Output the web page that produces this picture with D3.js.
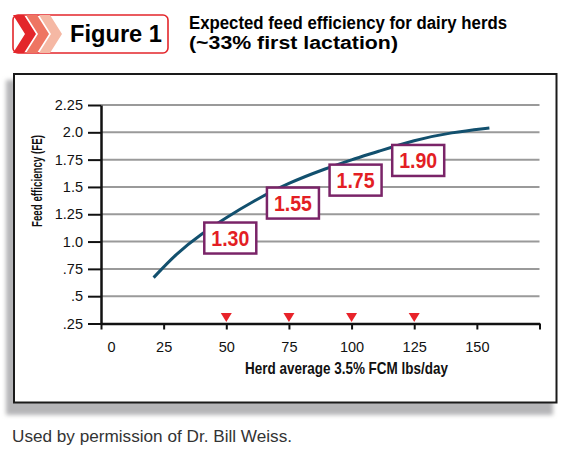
<!DOCTYPE html>
<html>
<head>
<meta charset="utf-8">
<script src="https://cdn.jsdelivr.net/npm/d3@7"></script>
<style>
  body { margin: 0; background: #fff; }
  text { font-family: "Liberation Sans", Arial, Helvetica, sans-serif; }
</style>
</head>
<body>
<div id="chart"></div>
<script>
// herd milk (lbs/day) vs feed efficiency
const milk = [21, 30, 40, 50, 60, 75, 90, 100, 110, 125, 140, 155];
const fe = [0.67, 0.89, 1.07, 1.22, 1.36, 1.54, 1.67, 1.75, 1.82, 1.93, 2.0, 2.04];

// boxed call-outs
const calloutX = [50, 75, 100, 125];
const calloutText = ['1.30', '1.55', '1.75', '1.90'];

const yTicks = [0.25, 0.5, 0.75, 1.0, 1.25, 1.5, 1.75, 2.0, 2.25];
const yTickLabels = ['.25', '.5', '.75', '1.0', '1.25', '1.5', '1.75', '2.0', '2.25'];
const xTicks = [0, 25, 50, 75, 100, 125, 150, 175];
const xTickLabels = ['0', '25', '50', '75', '100', '125', '150', ''];

const W = 575, H = 452;
const svg = d3.select('#chart').append('svg')
  .attr('width', W)
  .attr('height', H);

// Drop shadow + frame
const defs = svg.append('defs');
defs.append('filter').attr('id', 'blur')
  .append('feGaussianBlur').attr('stdDeviation', 2);

svg.append('rect')
  .attr('x', 6).attr('y', 80)
  .attr('width', 547).attr('height', 335)
  .attr('fill', '#b5b5b8')
  .attr('filter', 'url(#blur)');

svg.append('rect')
  .attr('x', 14).attr('y', 74)
  .attr('width', 542.5).attr('height', 328.5)
  .attr('fill', '#fff')
  .attr('stroke', '#1a1a1a')
  .attr('stroke-width', 2);

// Figure badge
const chevColors = ['#e3262b', '#ee7562', '#f5b8a4'];
svg.append('rect')
  .attr('x', 13).attr('y', 15)
  .attr('width', 155).attr('height', 38)
  .attr('rx', 5)
  .attr('fill', '#fff')
  .attr('stroke', '#e3262b')
  .attr('stroke-width', 1.6);

svg.selectAll('path.chev')
  .data(chevColors)
  .join('path')
  .attr('class', 'chev')
  .attr('fill', d => d)
  .attr('d', (d, i) => {
    const x0 = 13 + i * 13;
    return `M${x0},15 L${x0 + 11},15 L${x0 + 23},34 L${x0 + 11},53 L${x0},53 L${x0 + 12},34 Z`;
  });

svg.append('text')
  .attr('x', 70).attr('y', 42)
  .attr('font-size', 24)
  .attr('font-weight', 'bold')
  .attr('textLength', 92)
  .attr('lengthAdjust', 'spacingAndGlyphs')
  .text('Figure 1');

svg.append('text')
  .attr('x', 189).attr('y', 29)
  .attr('font-size', 17.5)
  .attr('font-weight', 'bold')
  .attr('textLength', 318)
  .attr('lengthAdjust', 'spacingAndGlyphs')
  .text('Expected feed efficiency for dairy herds');

svg.append('text')
  .attr('x', 189).attr('y', 49)
  .attr('font-size', 17.5)
  .attr('font-weight', 'bold')
  .attr('textLength', 209)
  .attr('lengthAdjust', 'spacingAndGlyphs')
  .text('(~33% first lactation)');

// Scales
const x = d3.scaleLinear().domain([0, 175]).range([101, 539.5]);
const y = d3.scaleLinear().domain([0.25, 2.25]).range([323.5, 105]);

// Gridlines
svg.append('g')
  .selectAll('line')
  .data(yTicks.slice(1))
  .join('line')
  .attr('x1', x(0)).attr('x2', x(175))
  .attr('y1', d => y(d)).attr('y2', d => y(d))
  .attr('stroke', '#9a9a9a')
  .attr('stroke-width', 2);

// Y axis
const yAxis = svg.append('g')
  .attr('transform', `translate(${x(0)},0)`)
  .call(d3.axisLeft(y)
    .tickValues(yTicks)
    .tickFormat((d, i) => yTickLabels[i])
    .tickSize(13)
    .tickSizeOuter(0)
    .tickPadding(5));
yAxis.select('.domain').attr('stroke', '#111').attr('stroke-width', 2.5);
yAxis.selectAll('.tick line').attr('stroke', '#111').attr('stroke-width', 2);
yAxis.selectAll('.tick text')
  .attr('font-size', 14.5)
  .attr('fill', '#111')
  .attr('font-family', '"Liberation Sans", Arial, sans-serif');

// X axis
const xAxis = svg.append('g')
  .attr('transform', `translate(0,${y(0.25)})`)
  .call(d3.axisBottom(x)
    .tickValues(xTicks)
    .tickFormat((d, i) => xTickLabels[i])
    .tickSize(6)
    .tickSizeOuter(0));
xAxis.select('.domain').attr('stroke', '#111').attr('stroke-width', 2.5);
xAxis.selectAll('.tick line').attr('stroke', '#111').attr('stroke-width', 2);
xAxis.selectAll('.tick text')
  .attr('font-size', 14.5)
  .attr('fill', '#111')
  .attr('font-family', '"Liberation Sans", Arial, sans-serif')
  .attr('y', 28)
  .attr('dy', 0)
  .attr('dx', d => d === 0 ? 10 : 0);

// axis titles
svg.append('text')
  .attr('x', 346.5).attr('y', 373.5)
  .attr('text-anchor', 'middle')
  .attr('font-size', 16.5)
  .attr('font-weight', 'bold')
  .attr('fill', '#111')
  .attr('textLength', 203)
  .attr('lengthAdjust', 'spacingAndGlyphs')
  .text('Herd average 3.5% FCM lbs/day');

svg.append('text')
  .attr('transform', 'translate(42,181) rotate(-90)')
  .attr('text-anchor', 'middle')
  .attr('font-size', 15.5)
  .attr('font-weight', 'bold')
  .attr('fill', '#111')
  .attr('textLength', 92)
  .attr('lengthAdjust', 'spacingAndGlyphs')
  .text('Feed efficiency (FE)');

// Curve
const line = d3.line()
  .x(d => x(d[0]))
  .y(d => y(d[1]))
  .curve(d3.curveBasis);

svg.append('path')
  .datum(d3.zip(milk, fe))
  .attr('fill', 'none')
  .attr('stroke', '#12506e')
  .attr('stroke-width', 3)
  .attr('d', line);

// red markers above the axis
svg.selectAll('path.marker')
  .data(calloutX)
  .join('path')
  .attr('class', 'marker')
  .attr('fill', '#e8232a')
  .attr('d', d => `M${x(d) - 5.5},${y(0.25) - 10.5} L${x(d) + 5.5},${y(0.25) - 10.5} L${x(d)},${y(0.25) - 1.5} Z`);

// call-out boxes sit just under the curve
const curveAt = d3.scaleLinear().domain(milk).range(fe);
const boxW = 52, boxH = 31;
const boxes = svg.selectAll('g.callout')
  .data(calloutX)
  .join('g')
  .attr('class', 'callout')
  .attr('transform', d => `translate(${x(d) - 22},${y(curveAt(d)) + 5})`);

boxes.append('rect')
  .attr('width', boxW).attr('height', boxH)
  .attr('fill', '#fff')
  .attr('stroke', '#7a2468')
  .attr('stroke-width', 2.5);

boxes.append('text')
  .attr('x', boxW / 2).attr('y', boxH / 2 + 7.5)
  .attr('text-anchor', 'middle')
  .attr('font-size', 21.5)
  .attr('font-weight', 'bold')
  .attr('fill', '#e31e24')
  .attr('textLength', 38)
  .attr('lengthAdjust', 'spacingAndGlyphs')
  .text((d, i) => calloutText[i]);

// footer
svg.append('text')
  .attr('x', 12).attr('y', 442)
  .attr('font-size', 16.5)
  .attr('fill', '#333')
  .attr('textLength', 280)
  .attr('lengthAdjust', 'spacingAndGlyphs')
  .text('Used by permission of Dr. Bill Weiss.');
</script>
</body>
</html>
